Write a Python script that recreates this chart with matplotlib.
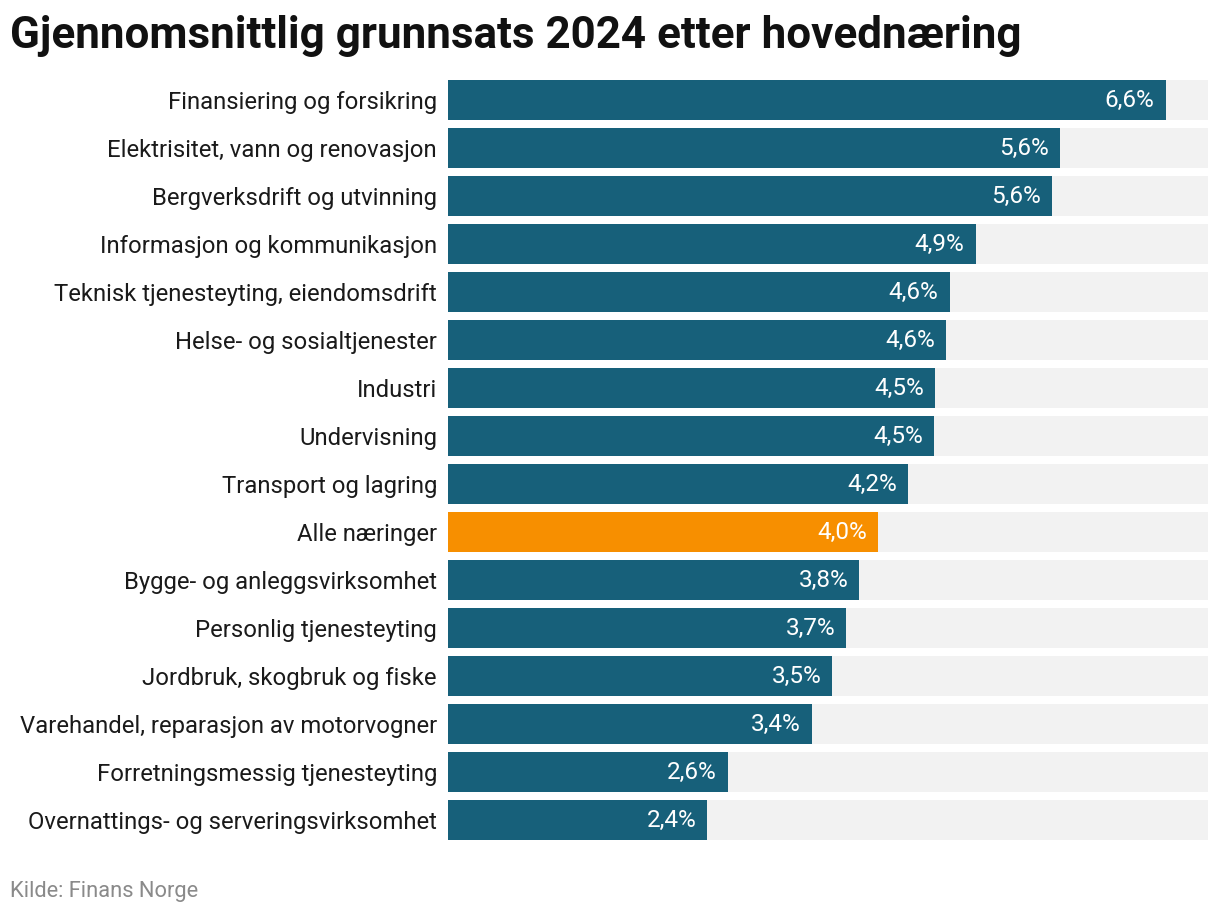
import matplotlib
matplotlib.use("Agg")
import matplotlib.pyplot as plt

categories = [
    "Finansiering og forsikring",
    "Elektrisitet, vann og renovasjon",
    "Bergverksdrift og utvinning",
    "Informasjon og kommunikasjon",
    "Teknisk tjenesteyting, eiendomsdrift",
    "Helse- og sosialtjenester",
    "Industri",
    "Undervisning",
    "Transport og lagring",
    "Alle næringer",
    "Bygge- og anleggsvirksomhet",
    "Personlig tjenesteyting",
    "Jordbruk, skogbruk og fiske",
    "Varehandel, reparasjon av motorvogner",
    "Forretningsmessig tjenesteyting",
    "Overnattings- og serveringsvirksomhet",
]
values = [6.61, 5.64, 5.56, 4.86, 4.62, 4.59, 4.49, 4.48, 4.24, 3.96,
          3.79, 3.67, 3.54, 3.35, 2.58, 2.39]
labels = ["6,6%", "5,6%", "5,6%", "4,9%", "4,6%", "4,6%", "4,5%", "4,5%",
          "4,2%", "4,0%", "3,8%", "3,7%", "3,5%", "3,4%", "2,6%", "2,4%"]
highlight = "Alle næringer"
xmax = 7.0

plt.rcParams['font.family'] = ['Roboto', 'DejaVu Sans']

W, H = 1220, 916
fig = plt.figure(figsize=(W / 100, H / 100), dpi=100)
ax = fig.add_axes([448 / W, 1 - 844 / H, 760 / W, 768 / H])

teal = "#17607a"
orange = "#f78f00"
bg = "#f2f2f2"

n = len(categories)
ypos = list(range(n))
ax.barh(ypos, [xmax] * n, height=40 / 48, color=bg, zorder=1)
colors = [orange if c == highlight else teal for c in categories]
ax.barh(ypos, values, height=40 / 48, color=colors, zorder=2)

for y, v, lab in zip(ypos, values, labels):
    ax.annotate(lab, xy=(v, y), xytext=(-8, 0), textcoords="offset points",
                ha="right", va="center", color="white", fontsize=17.5, zorder=3)

ax.set_xlim(0, xmax)
ax.set_ylim(n - 0.5, -0.5)
ax.set_yticks(ypos)
ax.set_yticklabels(categories, fontsize=17.2, color="#1a1a1a")
ax.tick_params(axis="y", length=0, pad=8)
ax.set_xticks([])
for s in ax.spines.values():
    s.set_visible(False)

fig.text(10 / W, 1 - 36 / H, "Gjennomsnittlig grunnsats 2024 etter hovednæring",
         fontsize=31.7, fontweight="bold", color="#111111", ha="left", va="center")
fig.text(10 / W, 1 - 892 / H, "Kilde: Finans Norge", fontsize=15.75,
         color="#8a8a8a", ha="left", va="center")

fig.savefig("out.png", dpi=100)
